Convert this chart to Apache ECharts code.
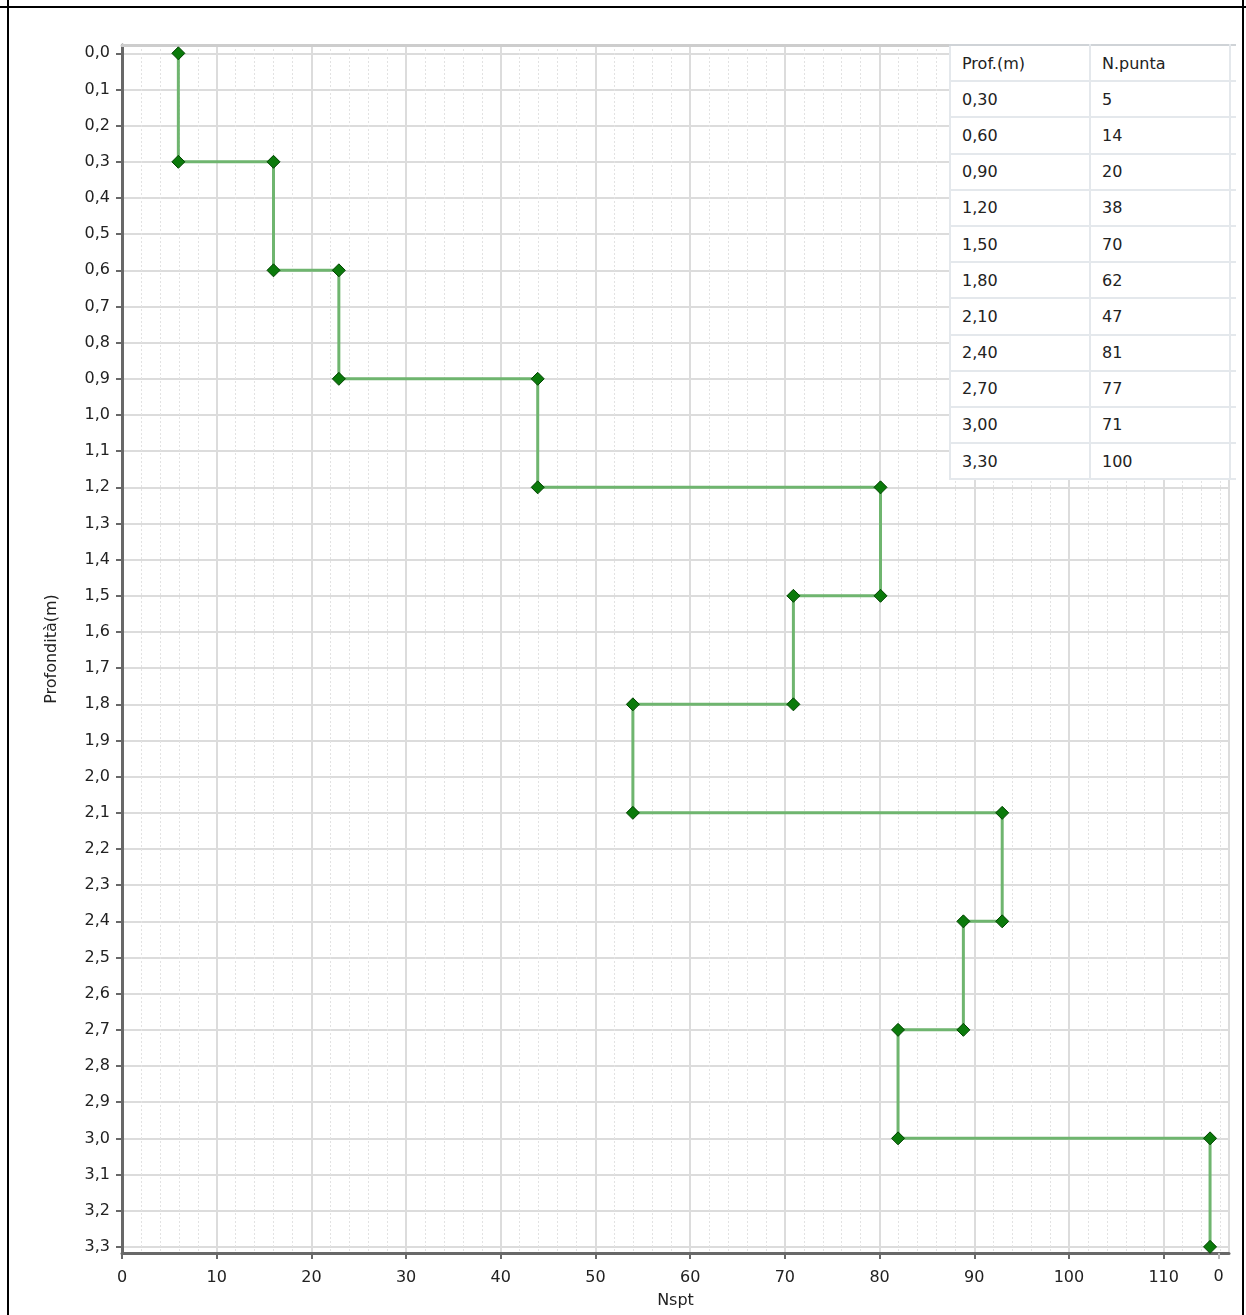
<!DOCTYPE html>
<html>
<head>
<meta charset="utf-8">
<script src="https://cdn.jsdelivr.net/npm/echarts@6/dist/echarts.min.js"></script>
<style>
  html, body { margin: 0; padding: 0; background: #fff; }
  #wrap { position: relative; width: 1246px; height: 1315px; overflow: hidden; }
  #chart { position: absolute; left: 0; top: 0; width: 1246px; height: 1315px; }
  .frame { position: absolute; background: #000; }
  #tbl { position: absolute; left: 949px; top: 44px; border-collapse: collapse; background: #fff;
         font-family: "DejaVu Sans", sans-serif; font-size: 16px; color: #222; }
  #tbl tr { height: 36.2px; }
  #tbl td { padding: 0 0 0 11px; border: 2px solid #e4e8ec; box-sizing: border-box; }
  #tbl td.c1 { width: 140px; }
  #tbl td.c2 { width: 140px; }
  #tbl td.c3 { width: 6px; padding: 0; border-right: none; }
  #tbl tr:first-child td { border-top: 2px solid #cfd3d7; }
</style>
</head>
<body>
<div id="wrap">
  <div id="chart"></div>
  <table id="tbl"></table>
  <div class="frame" style="left:0;top:6px;width:1246px;height:2px;"></div>
  <div class="frame" style="left:7px;top:0;width:2px;height:1315px;"></div>
  <div class="frame" style="left:1242px;top:0;width:2px;height:1315px;"></div>
</div>
<script>
// ---- data ----
const tableHeaders = ['Prof.(m)', 'N.punta'];
const depths = [0.30, 0.60, 0.90, 1.20, 1.50, 1.80, 2.10, 2.40, 2.70, 3.00, 3.30];
const nPunta = [5, 14, 20, 38, 70, 62, 47, 81, 77, 71, 100];
// Nspt values read from the plotted steps
const nspt = [5.95, 16.0, 22.9, 43.9, 80.1, 70.9, 53.95, 92.95, 88.85, 81.95, 114.9];
const yTickValues = [0, 0.1, 0.2, 0.3, 0.4, 0.5, 0.6, 0.7, 0.8, 0.9, 1.0, 1.1, 1.2, 1.3, 1.4, 1.5, 1.6,
  1.7, 1.8, 1.9, 2.0, 2.1, 2.2, 2.3, 2.4, 2.5, 2.6, 2.7, 2.8, 2.9, 3.0, 3.1, 3.2, 3.3];
const xExtraTick = [115.8];
const xExtraLabel = ['0'];
const xAxisName = 'Nspt';
const yAxisName = 'Profondità(m)';

// ---- table ----
const tbl = document.getElementById('tbl');
function addRow(a, b) {
  const tr = document.createElement('tr');
  tr.innerHTML = '<td class="c1">' + a + '</td><td class="c2">' + b + '</td><td class="c3"></td>';
  tbl.appendChild(tr);
}
addRow(tableHeaders[0], tableHeaders[1]);
depths.forEach((d, i) => addRow(d.toFixed(2).replace('.', ','), nPunta[i]));

// ---- step points ----
const points = [];
nspt.forEach((v, i) => {
  const top = i === 0 ? 0 : depths[i - 1];
  points.push([v, top]);
  points.push([v, depths[i]]);
});

const font = '"DejaVu Sans", sans-serif';
const chart = echarts.init(document.getElementById('chart'), null, { renderer: 'canvas' });
const xMin = 0, xMax = 116.9, yMin = -0.023, yMax = 3.317;
chart.setOption({
  animation: false,
  grid: { left: 122, right: 17, top: 45, bottom: 62, containLabel: false },
  xAxis: [
    {
      type: 'value', min: xMin, max: xMax, interval: 10, position: 'bottom',
      name: xAxisName, nameLocation: 'middle', nameGap: 40,
      nameTextStyle: { fontFamily: font, fontSize: 16, color: '#222' },
      axisLine: { show: true, onZero: false, lineStyle: { color: '#686868', width: 3 } },
      axisTick: { show: true, length: 6, lineStyle: { color: '#686868', width: 2 } },
      axisLabel: { fontFamily: font, fontSize: 16, color: '#222', margin: 17, showMaxLabel: false },
      splitLine: { show: true, lineStyle: { color: '#dcdcdc', width: 2 } },
      minorTick: { show: false, splitNumber: 5 },
      minorSplitLine: { show: true, lineStyle: { color: '#e2e2e2', width: 1, type: [2, 2] } }
    },
    {
      type: 'value', min: xMin, max: xMax, position: 'bottom',
      axisLine: { show: false, onZero: false },
      axisTick: { show: true, length: 6, customValues: xExtraTick, lineStyle: { color: '#bcbcbc', width: 2 } },
      axisLabel: { show: true, customValues: xExtraTick, fontFamily: font, fontSize: 16, color: '#222', margin: 16,
                   formatter: () => xExtraLabel[0] },
      splitLine: { show: false }
    },
    {
      type: 'value', min: xMin, max: xMax, position: 'top',
      axisLine: { show: true, onZero: false, lineStyle: { color: '#cdcdcd', width: 3 } },
      axisTick: { show: false }, axisLabel: { show: false }, splitLine: { show: false }
    }
  ],
  yAxis: {
    type: 'value', inverse: true, min: yMin, max: yMax,
    name: yAxisName, nameLocation: 'middle', nameGap: 62,
    nameTextStyle: { fontFamily: font, fontSize: 16, color: '#222' },
    axisLine: { show: true, onZero: false, lineStyle: { color: '#686868', width: 3 } },
    axisTick: { show: true, length: 6, customValues: yTickValues, lineStyle: { color: '#686868', width: 2 } },
    axisLabel: { customValues: yTickValues, fontFamily: font, fontSize: 16, color: '#222', margin: 12,
                 formatter: v => v.toFixed(1).replace('.', ',') },
    splitLine: { show: true, lineStyle: { color: '#dcdcdc', width: 2 } }
  },
  series: [{
    type: 'line', xAxisIndex: 0, data: points,
    symbol: 'diamond', symbolSize: 13,
    lineStyle: { color: '#6fb56f', width: 3 },
    itemStyle: { color: '#0b7a0b', borderColor: '#004400', borderWidth: 1 },
    z: 5
  }]
});
</script>
</body>
</html>
